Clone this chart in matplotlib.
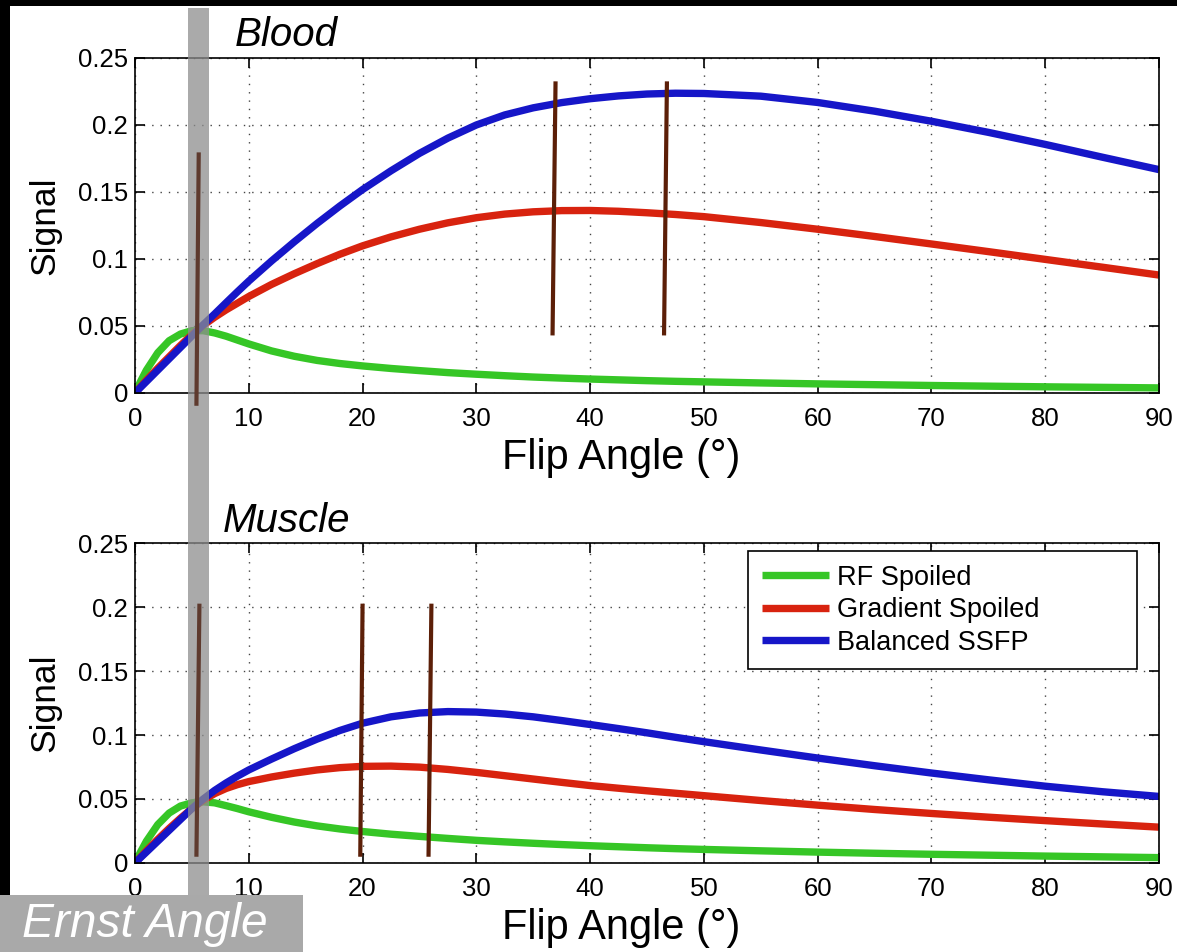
import matplotlib
matplotlib.use("Agg")
import matplotlib.pyplot as plt
import matplotlib.transforms as mtransforms
from matplotlib.lines import Line2D
from matplotlib.patches import Rectangle
from matplotlib.ticker import FormatStrFormatter, MultipleLocator

plt.rcParams['font.family'] = ['Liberation Sans', 'DejaVu Sans']

angles = [0, 0.5, 1, 2, 3, 4, 5, 6, 7, 8, 9, 10, 12, 14, 16, 18, 20, 22.5, 25, 27.5, 30,
          32.5, 35, 37.5, 40, 42.5, 45, 47.5, 50, 55, 60, 65, 70, 75, 80, 85, 90]

# Blood
blood_rf = [0, .0088, .017, .030, .039, .044, .0465, .0465, .0448, .0424, .0395, .0366,
            .0314, .0274, .0243, .022, .0202, .0183, .0167, .0152, .014,
            .0129, .0119, .0111, .0104, .0098, .0092, .0087, .0083, .0075, .0068,
            .0062, .0056, .0051, .0046, .0042, .0038]
blood_gre = [0, .0048, .0095, .0185, .027, .0355, .0435, .0505, .0565, .062, .067, .072,
             .081, .089, .0965, .1035, .1098, .1165, .1222, .127, .1308,
             .1335, .1352, .1361, .1362, .1356, .1345, .1332, .1316, .1272, .1222,
             .1168, .1112, .1055, .0997, .0939, .088]
blood_ssfp = [0, .0043, .0085, .017, .0255, .034, .0425, .051, .059, .0673, .0755, .0835,
              .0985, .1128, .1265, .1395, .1518, .1658, .1788, .1902, .200,
              .2075, .2128, .2167, .2196, .2217, .2231, .2237, .2235, .2215, .2168,
              .2103, .2028, .1945, .1855, .176, .1667]

# Muscle
muscle_rf = [0, .0088, .017, .030, .039, .0445, .047, .0478, .047, .0448, .0425, .040,
             .0357, .032, .029, .0266, .0246, .0225, .0208, .0192, .0177,
             .0165, .0154, .0144, .0135, .0127, .0119, .0112, .0106, .0095, .0085,
             .0076, .0068, .0061, .0054, .0048, .0042]
muscle_gre = [0, .0048, .0095, .0185, .027, .035, .0425, .049, .0542, .0582, .0612, .0636,
              .0672, .0702, .0727, .0745, .0755, .0757, .0749, .0731, .0708,
              .0682, .0656, .063, .0605, .0584, .0564, .0545, .0526, .0488, .0452,
              .0418, .0387, .0358, .0331, .0305, .028]
muscle_ssfp = [0, .0043, .0085, .017, .0255, .034, .0425, .050, .0567, .0625, .0678, .0727,
               .0812, .0893, .0968, .1035, .1092, .1142, .1172, .1183, .1179,
               .1164, .1142, .1113, .1082, .105, .1017, .0982, .0948, .0883, .082,
               .076, .0703, .065, .060, .0557, .052]

labels = ['RF Spoiled', 'Gradient Spoiled', 'Balanced SSFP']
colors = ['#36c626', '#d8230f', '#1616c8']

# marker lines (x_top, x_bottom, y_top, y_bottom)
blood_marks = [(5.6, 5.4, 0.178, -0.008), (36.96, 36.7, 0.231, 0.0445), (46.75, 46.5, 0.231, 0.0445)]
muscle_marks = [(5.66, 5.4, 0.201, 0.0065), (20.0, 19.8, 0.201, 0.0065), (26.05, 25.8, 0.201, 0.0065)]
band = (4.66, 6.5)

fig = plt.figure(figsize=(11.77, 9.52), dpi=100)
fig.patch.set_facecolor('white')
ax1 = fig.add_axes([0.1147, 0.5872, 0.870, 0.3519])
ax2 = fig.add_axes([0.1147, 0.0935, 0.870, 0.3361])

panels = [(ax1, 'Blood', [blood_rf, blood_gre, blood_ssfp]),
          (ax2, 'Muscle', [muscle_rf, muscle_gre, muscle_ssfp])]

for ax, name, series in panels:
    for vals, lab, c in zip(series, labels, colors):
        ax.plot(angles, vals, color=c, lw=5.3, label=lab, solid_joinstyle='round',
                solid_capstyle='butt')
    ax.set_xlim(0, 90)
    ax.set_ylim(0, 0.25)
    ax.xaxis.set_major_locator(MultipleLocator(10))
    ax.yaxis.set_major_locator(MultipleLocator(0.05))
    ax.yaxis.set_major_formatter(FormatStrFormatter('%g'))
    ax.grid(True, linestyle=(0, (1, 5)), color='#444444', lw=1)
    ax.tick_params(direction='in', length=7, width=1.2, top=True, right=True,
                   labelsize=18.5)
    ax.tick_params(axis='x', pad=10)
    ax.tick_params(axis='y', pad=5)
    for s in ax.spines.values():
        s.set_linewidth(1.2)
    ax.set_xlabel('Flip Angle (°)', fontsize=30, labelpad=5, x=0.4746)
    ax.set_ylabel('Signal', fontsize=25.5, labelpad=12)
    ax.text(0.148, 1.035, name, transform=ax.transAxes, fontsize=29,
            style='italic', ha='center', va='baseline')

for x0, x1, y0, y1 in blood_marks[1:]:
    ax1.plot([x0, x1], [y0, y1], color='#5c1f08', lw=3, clip_on=False, zorder=5)
for x0, x1, y0, y1 in muscle_marks[1:]:
    ax2.plot([x0, x1], [y0, y1], color='#5c1f08', lw=3, clip_on=False, zorder=5)

leg = ax2.legend(loc='upper left', bbox_to_anchor=(0.5986, 0.6125, 0.38, 0.3625),
                 mode='expand', fontsize=19.5, handlelength=2.5, handletextpad=0.3,
                 labelspacing=0.24, borderpad=0.5, borderaxespad=0,
                 fancybox=False, framealpha=1, edgecolor='black')
leg.get_frame().set_linewidth(1.2)

# Ernst angle band across the whole figure
tr = mtransforms.blended_transform_factory(ax1.transData, fig.transFigure)
fig.add_artist(Rectangle((band[0], 0), band[1] - band[0], 0.9916, transform=tr,
                         facecolor='#8e8e8e', alpha=0.75, edgecolor='none', zorder=2))
for ax, marks in [(ax1, blood_marks), (ax2, muscle_marks)]:
    x0, x1, y0, y1 = marks[0]
    fig.add_artist(Line2D([x0, x1], [y0, y1], transform=ax.transData,
                          color='#5e3a2e', lw=3, zorder=3))

# black frame strips
fig.add_artist(Rectangle((0, 1 - 6 / 952), 1, 6 / 952, transform=fig.transFigure,
                         facecolor='black', edgecolor='none', zorder=4))
fig.add_artist(Rectangle((0, 57 / 952), 10 / 1177, 1, transform=fig.transFigure,
                         facecolor='black', edgecolor='none', zorder=4))

# Ernst Angle label box
fig.add_artist(Rectangle((0, 0), 303 / 1177, 57 / 952, transform=fig.transFigure,
                         facecolor='#a9a9a9', edgecolor='none', zorder=4))
fig.text(22 / 1177, 1 - 937 / 952, 'Ernst Angle', color='white', fontsize=34.5,
         style='italic', ha='left', va='baseline', zorder=5)

fig.savefig('out.png', dpi=100, facecolor=fig.get_facecolor())
